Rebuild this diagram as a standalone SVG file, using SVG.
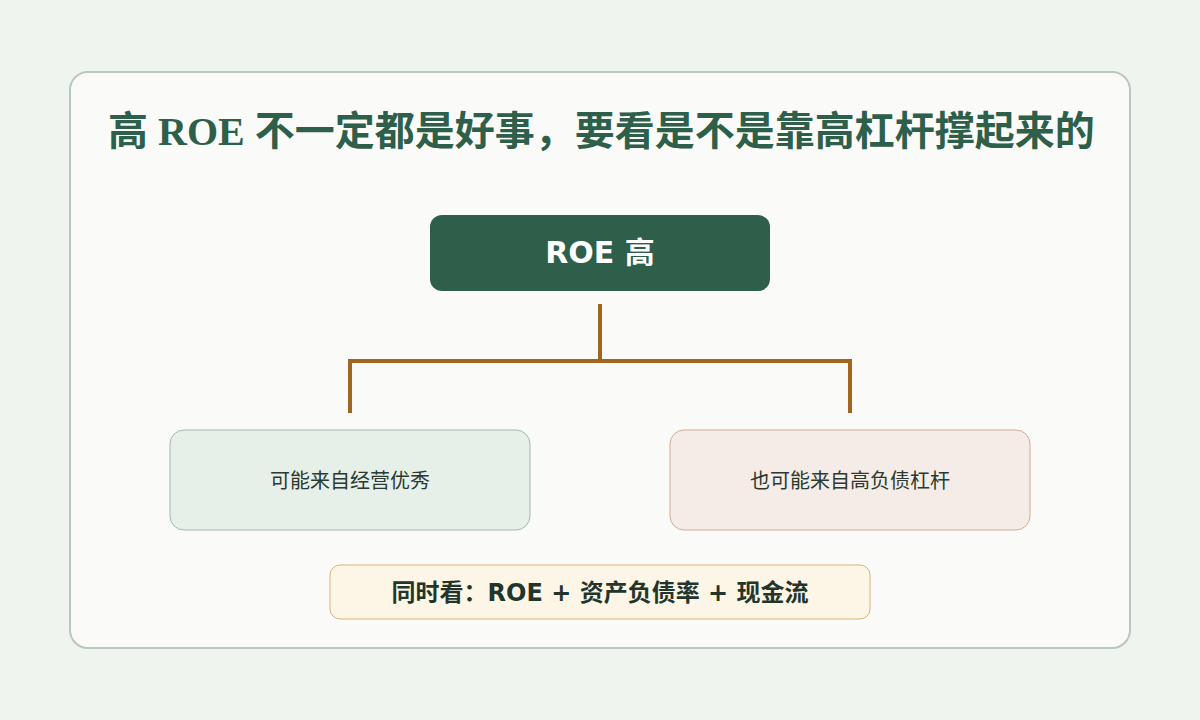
<svg xmlns="http://www.w3.org/2000/svg" width="1200" height="720" viewBox="0 0 1200 720">
<style>
.t{font-family:"Liberation Serif","Noto Sans CJK SC",serif;font-weight:bold;font-size:40px;fill:#2d5f4a}
.n{font-family:"DejaVu Sans","Noto Sans CJK SC",sans-serif;font-weight:bold}
.s{font-family:"DejaVu Sans","Noto Sans CJK SC",sans-serif;font-size:20px;fill:#2a3a30}
</style>
<rect width="1200" height="720" fill="#eff4ee"/>
<rect x="70" y="72" width="1060" height="576" rx="18" fill="#fafaf8" stroke="#b9c8bc" stroke-width="2"/>
<text class="t" x="108" y="145">高 ROE 不一定都是好事，要看是不是靠高杠杆撑起来的</text>
<g id="connectors" fill="none" stroke="#a0661f" stroke-width="4">
<path d="M600 304V361H350V413M600 361H850V413"/>
</g>
<g id="root"><rect x="430" y="215" width="340" height="76" rx="12" fill="#2d5f4a"/>
<text class="n" x="600" y="263" text-anchor="middle" font-size="30" fill="#fff">ROE 高</text></g>
<g id="left"><rect x="170" y="430" width="360" height="100" rx="14" fill="#e6efe8" stroke="#a3b9aa"/>
<text class="s" x="350" y="488" text-anchor="middle">可能来自经营优秀</text></g>
<g id="right"><rect x="670" y="430" width="360" height="100" rx="14" fill="#f5ece7" stroke="#d2ab95"/>
<text class="s" x="850" y="488" text-anchor="middle">也可能来自高负债杠杆</text></g>
<g id="note"><rect x="330" y="565" width="540" height="54" rx="10" fill="#fdf5e6" stroke="#d9b47a"/>
<text class="n" x="600" y="601" text-anchor="middle" font-size="24" fill="#23352b">同时看：ROE + 资产负债率 + 现金流</text></g>
</svg>
